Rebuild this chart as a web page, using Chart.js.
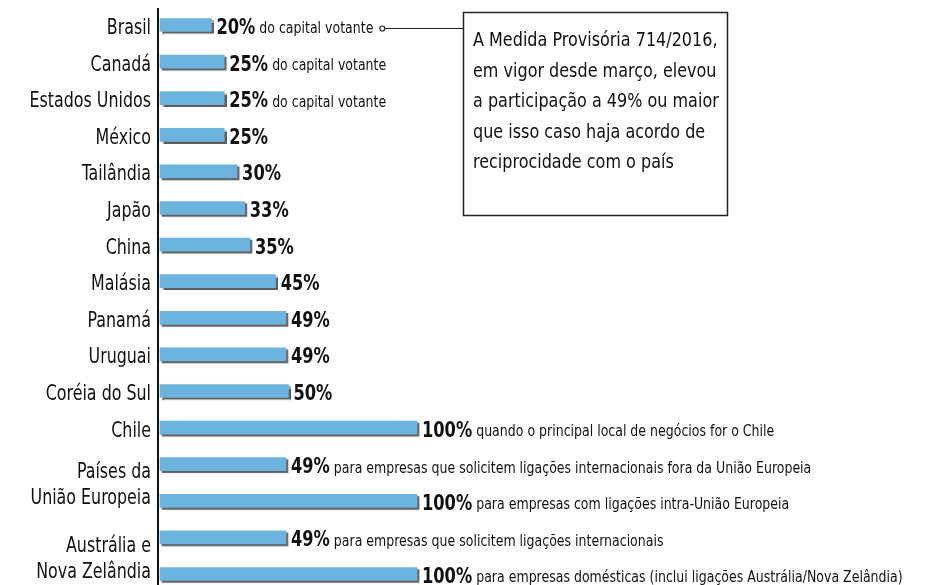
<!DOCTYPE html>
<html>
<head>
<meta charset="utf-8">
<script src="https://cdn.jsdelivr.net/npm/chart.js@4"></script>
<style>
  html, body { margin: 0; padding: 0; background: #fff; }
  #chart { display: block; }
</style>
</head>
<body>
<canvas id="chart" width="947" height="585"></canvas>
<script>
// categories (multi-line labels shared by two bars use "\n")
const categories = [
    "Brasil", "Canadá", "Estados Unidos", "México", "Tailândia", "Japão", "China",
    "Malásia", "Panamá", "Uruguai", "Coréia do Sul", "Chile",
    "Países da\nUnião Europeia", "Países da\nUnião Europeia",
    "Austrália e\nNova Zelândia", "Austrália e\nNova Zelândia"
];
const shares = [20, 25, 25, 25, 30, 33, 35, 45, 49, 49, 50, 100, 49, 100, 49, 100];
const notes = [
    "do capital votante", "do capital votante", "do capital votante",
    "", "", "", "", "", "", "", "",
    "quando o principal local de negócios for o Chile",
    "para empresas que solicitem ligações internacionais fora da União Europeia",
    "para empresas com ligações intra-União Europeia",
    "para empresas que solicitem ligações internacionais",
    "para empresas domésticas (inclui ligações Austrália/Nova Zelândia)"
];
const boxLines = [
    "A Medida Provisória 714/2016,",
    "em vigor desde março, elevou",
    "a participação a 49% ou maior",
    "que isso caso haja acordo de",
    "reciprocidade com o país"
];

const FAMILY = "'DejaVu Sans Condensed', 'DejaVu Sans', sans-serif";
const TEXT_DROP = 3.5; // text sits a little below the bar centre

// draws text squeezed horizontally, returns drawn width
function squeezed(ctx, text, x, y, font, sx, align) {
    ctx.save();
    ctx.font = font;
    ctx.textAlign = align || "left";
    ctx.translate(x, y);
    ctx.scale(sx, 1);
    ctx.fillText(text, 0, 0);
    const w = ctx.measureText(text).width * sx;
    ctx.restore();
    return w;
}

const shadowPlugin = {
    id: "barShadow",
    beforeDatasetsDraw(chart) {
        const ctx = chart.ctx;
        ctx.save();
        ctx.shadowColor = "rgba(40,40,40,0.75)";
        ctx.shadowOffsetX = 2;
        ctx.shadowOffsetY = 2;
        ctx.shadowBlur = 1;
    },
    afterDatasetsDraw(chart) {
        chart.ctx.restore();
    }
};

const overlayPlugin = {
    id: "overlay",
    afterDraw(chart) {
        const ctx = chart.ctx;
        const area = chart.chartArea;
        const yScale = chart.scales.y;
        const bars = chart.getDatasetMeta(0).data;

        ctx.save();
        // axis line
        ctx.strokeStyle = "#111";
        ctx.lineWidth = 2;
        ctx.beginPath();
        ctx.moveTo(area.left - 2, 8);
        ctx.lineTo(area.left - 2, 585);
        ctx.stroke();

        // category labels (grouped ones centred between their bars)
        ctx.fillStyle = "#111";
        ctx.textBaseline = "middle";
        const catFont = "21px " + FAMILY;
        const done = {};
        categories.forEach((c, i) => {
            if (done[c]) return;
            done[c] = true;
            const idx = categories.map((v, j) => v === c ? j : -1).filter(j => j >= 0);
            const mid = idx.reduce((s, j) => s + yScale.getPixelForValue(j), 0) / idx.length;
            const lines = c.split("\n");
            const step = 26;
            lines.forEach((t, k) => {
                squeezed(ctx, t, area.left - 9, mid + TEXT_DROP + (k - (lines.length - 1) / 2) * step,
                    catFont, 0.84, "right");
            });
        });

        // value labels
        let brasilEnd = 0;
        bars.forEach((bar, i) => {
            const x = bar.x + 5;
            const y = bar.y + TEXT_DROP;
            let end = x + squeezed(ctx, shares[i] + "%", x, y, "bold 21px " + FAMILY, 0.86);
            if (notes[i]) {
                end += 4 + squeezed(ctx, notes[i], end + 4, y + 1, "15px " + FAMILY, 0.93);
            }
            if (i === 0) brasilEnd = end;
        });

        // annotation box
        const bx = 463.5, by = 12.5, bw = 264, bh = 203;
        ctx.fillStyle = "#fff";
        ctx.fillRect(bx, by, bw, bh);
        ctx.strokeStyle = "#222";
        ctx.lineWidth = 1.5;
        ctx.strokeRect(bx, by, bw, bh);
        ctx.fillStyle = "#111";
        boxLines.forEach((t, k) => squeezed(ctx, t, 473, 41 + k * 30.5, "20px " + FAMILY, 0.89));

        // connector from Brasil note
        const cy = bars[0].y + TEXT_DROP;
        ctx.lineWidth = 1.2;
        ctx.beginPath();
        ctx.arc(brasilEnd + 9, cy, 2.5, 0, Math.PI * 2);
        ctx.stroke();
        ctx.beginPath();
        ctx.moveTo(brasilEnd + 11.5, cy);
        ctx.lineTo(bx, cy);
        ctx.stroke();
        ctx.restore();
    }
};

new Chart(document.getElementById("chart"), {
    type: "bar",
    data: {
        labels: categories,
        datasets: [{
            data: shares,
            backgroundColor: "#6cb4df",
            barThickness: 13,
            clip: false
        }]
    },
    options: {
        indexAxis: "y",
        responsive: false,
        animation: false,
        layout: { padding: { top: 25, bottom: 11, left: 0, right: 530 } },
        plugins: {
            legend: { display: false },
            tooltip: { enabled: false }
        },
        scales: {
            x: { min: 0, max: 100, display: false },
            y: {
                offset: false,
                grid: { display: false, drawTicks: false },
                border: { display: false },
                ticks: { display: false },
                afterFit(scale) { scale.width = 160; }
            }
        }
    },
    plugins: [shadowPlugin, overlayPlugin]
});
</script>
</body>
</html>
